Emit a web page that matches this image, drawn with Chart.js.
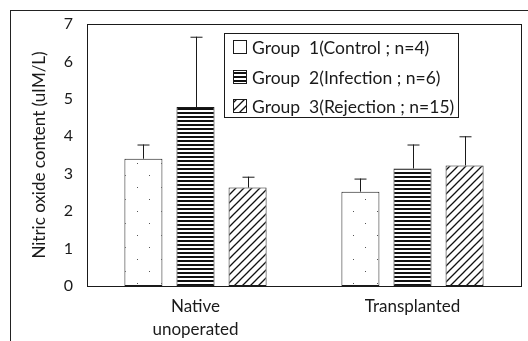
<!DOCTYPE html>
<html lang="en">
<head>
  <meta charset="UTF-8">
  <title>Nitric oxide content</title>
  <script src="https://cdn.jsdelivr.net/npm/chart.js"></script>
  <style>
    body { margin: 0; background: #fff; }
    .frame {
      position: absolute; left: 10px; top: 10px; width: 530px; height: 340px;
      border-left: 1px solid #222; border-top: 1px solid #222;
    }
    .chart-container { position: absolute; left: 0; top: 0; width: 528px; height: 341px; }
  </style>
</head>
<body>
  <div class="frame"></div>
  <div class="chart-container">
    <canvas id="noChart" width="528" height="341"></canvas>
  </div>

  <script>
    // data
    const categories = [['Native', 'unoperated'], 'Transplanted'];
    const groupLabels = ['Group  1(Control ; n=4)', 'Group  2(Infection ; n=6)', 'Group  3(Rejection ; n=15)'];
    const group1 = [3.40, 2.52];
    const group2 = [4.78, 3.14];
    const group3 = [2.63, 3.22];
    const group1Err = [0.38, 0.35];
    const group2Err = [1.88, 0.64];
    const group3Err = [0.29, 0.78];
    const yTicks = [0, 1, 2, 3, 4, 5, 6, 7];

    const FONT = 'Lato, "Open Sans", sans-serif';
    const INK = '#1a1a1a';

    function makePattern(kind) {
      const c = document.createElement('canvas');
      const p = c.getContext('2d');
      if (kind === 'dots') {
        c.width = 24; c.height = 24;
        p.fillStyle = '#fff'; p.fillRect(0, 0, 24, 24);
        p.fillStyle = '#555';
        p.fillRect(5, 7, 1, 1); p.fillRect(17, 19, 1, 1);
      } else if (kind === 'stripes') {
        c.width = 4; c.height = 4;
        p.fillStyle = '#fff'; p.fillRect(0, 0, 4, 4);
        p.fillStyle = '#111'; p.fillRect(0, 0, 4, 2);
      } else {
        c.width = 8; c.height = 8;
        p.fillStyle = '#fff'; p.fillRect(0, 0, 8, 8);
        p.strokeStyle = '#111'; p.lineWidth = 1.3;
        p.beginPath();
        p.moveTo(0, 8); p.lineTo(8, 0);
        p.moveTo(-2, 2); p.lineTo(2, -2);
        p.moveTo(6, 10); p.lineTo(10, 6);
        p.stroke();
      }
      return p.createPattern(c, 'repeat');
    }

    const fills = [makePattern('dots'), makePattern('stripes'), makePattern('hatch')];
    const errs = [group1Err, group2Err, group3Err];

    // upper error bars with a cap
    const errorBars = {
      id: 'errorBars',
      afterDatasetsDraw(chart) {
        const ctx = chart.ctx;
        const y = chart.scales.y;
        ctx.save();
        ctx.strokeStyle = INK;
        ctx.lineWidth = 1;
        chart.data.datasets.forEach((ds, i) => {
          chart.getDatasetMeta(i).data.forEach((bar, j) => {
            const top = y.getPixelForValue(ds.data[j] + errs[i][j]);
            const x = Math.round(bar.x) + 0.5;
            ctx.beginPath();
            ctx.moveTo(x, bar.y);
            ctx.lineTo(x, top);
            ctx.moveTo(x - 6, top + 0.5);
            ctx.lineTo(x + 6, top + 0.5);
            ctx.stroke();
          });
        });
        ctx.restore();
      }
    };

    // legend box inside the plot area, and the plot frame
    const boxLegend = {
      id: 'boxLegend',
      afterDraw(chart) {
        const ctx = chart.ctx;
        const a = chart.chartArea;
        ctx.save();
        ctx.strokeStyle = INK;
        ctx.lineWidth = 1;
        ctx.strokeRect(Math.round(a.left) + 0.5, Math.round(a.top) + 0.5, Math.round(a.right - a.left), Math.round(a.bottom - a.top));
        const bx = 224, by = 33, bw = 234, bh = 84;
        ctx.fillStyle = '#fff';
        ctx.fillRect(bx, by, bw, bh);
        ctx.strokeRect(bx + 0.5, by + 0.5, bw, bh);
        ctx.font = '17.5px ' + FONT;
        ctx.textBaseline = 'middle';
        const rows = [47, 77, 106];
        chart.data.datasets.forEach((ds, i) => {
          const ry = rows[i];
          ctx.fillStyle = fills[i];
          ctx.fillRect(233, ry - 7, 14, 14);
          ctx.strokeRect(233.5, ry - 6.5, 13, 13);
          ctx.fillStyle = INK;
          ctx.fillText(ds.label, 252, ry + 1);
        });
        ctx.restore();
      }
    };

    const datasets = [group1, group2, group3].map((vals, i) => ({
      label: groupLabels[i],
      data: vals,
      backgroundColor: fills[i],
      borderColor: INK,
      borderWidth: 1,
      borderSkipped: false,
      categoryPercentage: 0.72,
      barPercentage: 0.73
    }));

    new Chart(document.getElementById('noChart'), {
      type: 'bar',
      data: { labels: categories, datasets: datasets },
      plugins: [errorBars, boxLegend],
      options: {
        responsive: false,
        animation: false,
        layout: { padding: { top: 24, right: 7, left: 0, bottom: 0 } },
        scales: {
          x: {
            grid: { display: false, drawTicks: false },
            border: { display: false },
            ticks: { color: INK, font: { family: FONT, size: 17, lineHeight: 1.35 }, padding: 9, maxRotation: 0 },
            afterFit(s) { s.height = 55; }
          },
          y: {
            min: 0,
            max: 7,
            grid: { display: false, drawTicks: false },
            border: { display: false },
            afterBuildTicks(s) { s.ticks = yTicks.map(v => ({ value: v })); },
            ticks: { color: INK, font: { family: FONT, size: 16 }, padding: 14 },
            title: {
              display: true,
              text: 'Nitric oxide content (uIM/L)',
              color: INK,
              font: { family: FONT, size: 17 },
              padding: { top: 29, bottom: 0 }
            },
            afterFit(s) { s.width = 87; }
          }
        },
        plugins: {
          legend: { display: false },
          tooltip: { enabled: false }
        }
      }
    });
  </script>
</body>
</html>
